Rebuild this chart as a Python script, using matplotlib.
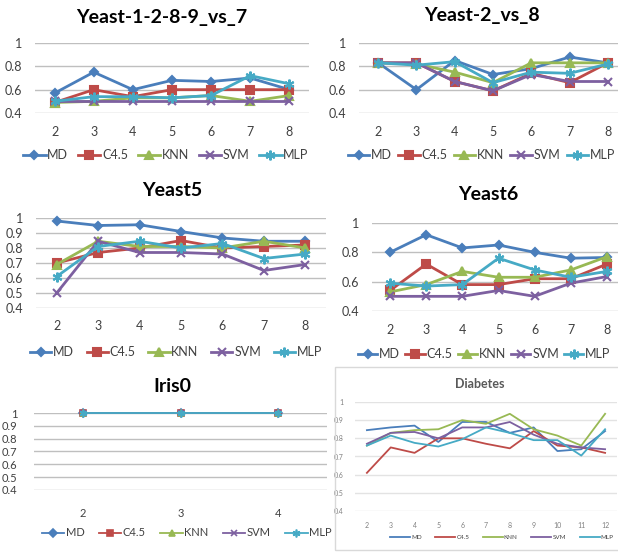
import matplotlib
matplotlib.use("Agg")
import matplotlib.pyplot as plt
from matplotlib.patches import Rectangle

plt.rcParams['font.family'] = ['Lato', 'DejaVu Sans']

W, H = 618, 552

methods = ["MD", "C4.5", "KNN", "SVM", "MLP"]

# Yeast-1-2-8-9_vs_7
y1289_x = [2, 3, 4, 5, 6, 7, 8]
y1289 = {
    "MD":   [0.57, 0.75, 0.60, 0.68, 0.67, 0.70, 0.60],
    "C4.5": [0.49, 0.60, 0.54, 0.60, 0.60, 0.60, 0.60],
    "KNN":  [0.49, 0.50, 0.53, 0.53, 0.55, 0.50, 0.55],
    "SVM":  [0.50, 0.50, 0.50, 0.50, 0.50, 0.50, 0.50],
    "MLP":  [0.50, 0.54, 0.54, 0.53, 0.55, 0.72, 0.65],
}

# Yeast-2_vs_8
y28_x = [2, 3, 4, 5, 6, 7, 8]
y28 = {
    "MD":   [0.83, 0.60, 0.85, 0.73, 0.78, 0.88, 0.83],
    "C4.5": [0.83, 0.83, 0.67, 0.59, 0.74, 0.66, 0.83],
    "KNN":  [0.83, 0.82, 0.75, 0.66, 0.83, 0.83, 0.83],
    "SVM":  [0.83, 0.83, 0.67, 0.59, 0.73, 0.67, 0.67],
    "MLP":  [0.83, 0.81, 0.84, 0.66, 0.75, 0.74, 0.82],
}

# Yeast5
y5_x = [2, 3, 4, 5, 6, 7, 8]
y5 = {
    "MD":   [0.98, 0.95, 0.955, 0.91, 0.867, 0.845, 0.845],
    "C4.5": [0.70, 0.77, 0.80, 0.85, 0.80, 0.81, 0.82],
    "KNN":  [0.69, 0.845, 0.81, 0.81, 0.80, 0.845, 0.80],
    "SVM":  [0.50, 0.845, 0.77, 0.77, 0.76, 0.65, 0.69],
    "MLP":  [0.61, 0.81, 0.845, 0.80, 0.83, 0.73, 0.76],
}

# Yeast6
y6_x = [2, 3, 4, 5, 6, 7, 8]
y6 = {
    "MD":   [0.80, 0.92, 0.83, 0.85, 0.80, 0.76, 0.765],
    "C4.5": [0.54, 0.72, 0.58, 0.58, 0.62, 0.62, 0.72],
    "KNN":  [0.53, 0.58, 0.67, 0.63, 0.63, 0.68, 0.77],
    "SVM":  [0.50, 0.50, 0.50, 0.54, 0.50, 0.59, 0.635],
    "MLP":  [0.59, 0.57, 0.58, 0.76, 0.68, 0.63, 0.67],
}

# Iris0
iris_x = [2, 3, 4]
iris = {
    "MD":   [1.0, 1.0, 1.0],
    "C4.5": [1.0, 1.0, 1.0],
    "KNN":  [1.0, 1.0, 1.0],
    "SVM":  [1.0, 1.0, 1.0],
    "MLP":  [1.0, 1.0, 1.0],
}

# Diabetes
diab_x = [2, 3, 4, 5, 6, 7, 8, 9, 10, 11, 12]
diab = {
    "MD":   [0.845, 0.86, 0.87, 0.78, 0.89, 0.89, 0.83, 0.86, 0.73, 0.74, 0.84],
    "C4.5": [0.61, 0.75, 0.72, 0.80, 0.80, 0.77, 0.745, 0.84, 0.76, 0.75, 0.72],
    "KNN":  [0.76, 0.83, 0.845, 0.85, 0.90, 0.88, 0.935, 0.85, 0.815, 0.76, 0.935],
    "SVM":  [0.77, 0.83, 0.835, 0.80, 0.86, 0.86, 0.89, 0.82, 0.77, 0.75, 0.74],
    "MLP":  [0.76, 0.815, 0.775, 0.755, 0.795, 0.86, 0.83, 0.79, 0.79, 0.705, 0.85],
}

colors = {"MD": "#4A7EBB", "C4.5": "#BE4B48", "KNN": "#98B954",
          "SVM": "#7D60A0", "MLP": "#46AAC5"}
markers = {"MD": "D", "C4.5": "s", "KNN": "^", "SVM": "x", "MLP": (6, 2, 0)}
msizes = {"MD": 4.5, "C4.5": 6, "KNN": 6, "SVM": 6, "MLP": 7}

fig = plt.figure(figsize=(W / 100, H / 100), dpi=100)
fig.patch.set_facecolor("white")


def add_panel(x0, x1, ytop, ybot):
    return fig.add_axes([x0 / W, 1 - ybot / H, (x1 - x0) / W, (ybot - ytop) / H])


def style_axes(ax, xs, yticks, ylabels, fs, grid_col="#BFBFBF", tcol="#404040"):
    ax.set_xlim(xs[0] - 0.5, xs[-1] + 0.5)
    ax.set_ylim(0.4, 1.0)
    ax.set_xticks(xs)
    ax.set_xticklabels([str(v) for v in xs])
    ax.set_yticks(yticks)
    ax.set_yticklabels(ylabels)
    for s in ax.spines.values():
        s.set_visible(False)
    ax.tick_params(length=0, labelsize=fs, colors=tcol, pad=9)
    ax.grid(axis="y", color=grid_col, lw=1)
    ax.set_axisbelow(True)
    ax.patch.set_alpha(0)


def draw_panel(ax, xs, data, lw=2, mscale=1.0, use_markers=True):
    for m in methods:
        if use_markers:
            ax.plot(xs, data[m], color=colors[m], lw=lw, marker=markers[m],
                    ms=msizes[m] * mscale, mew=1.5 * mscale, label=m, clip_on=False)
        else:
            ax.plot(xs, data[m], color=colors[m], lw=lw, label=m, clip_on=False)


def add_legend(ax, x0, cy, fs, hl=1.8, cs=0.75):
    h, l = ax.get_legend_handles_labels()
    fig.legend(h, l, loc="center left", bbox_to_anchor=(x0 / W, 1 - cy / H), ncol=5,
               frameon=False, fontsize=fs, handlelength=hl, handletextpad=0.15,
               columnspacing=cs, numpoints=1, labelcolor="#404040",
               borderpad=0, borderaxespad=0)


ticks02 = [0.4, 0.6, 0.8, 1.0]
labs02 = ["0.4", "0.6", "0.8", "1"]
ticks01 = [0.4, 0.5, 0.6, 0.7, 0.8, 0.9, 1.0]
labs01 = ["0.4", "0.5", "0.6", "0.7", "0.8", "0.9", "1"]

# top left
ax1 = add_panel(35, 309, 43, 113)
style_axes(ax1, y1289_x, ticks02, labs02, 9)
draw_panel(ax1, y1289_x, y1289)
add_legend(ax1, 23, 155, 9)

# top right
ax2 = add_panel(359, 627, 43, 113)
style_axes(ax2, y28_x, ticks02, labs02, 9)
draw_panel(ax2, y28_x, y28)
add_legend(ax2, 348, 155, 9, hl=1.7, cs=0.5)

# middle left
ax3 = add_panel(36, 326, 218, 308)
style_axes(ax3, y5_x, ticks01, labs01, 9)
draw_panel(ax3, y5_x, y5)
add_legend(ax3, 30, 352, 9, hl=1.7, cs=1.0)

# middle right
ax4 = add_panel(372, 625, 223, 311)
style_axes(ax4, y6_x, ticks02, labs02, 9)
draw_panel(ax4, y6_x, y6)
add_legend(ax4, 358, 354, 9, hl=1.55, cs=0.4)

# bottom left
ax5 = add_panel(34, 327, 413, 490)
style_axes(ax5, iris_x, ticks01, labs01, 8)
ax5.tick_params(axis="y", pad=12)
ax5.tick_params(axis="x", pad=13)
draw_panel(ax5, iris_x, iris, lw=1.3, mscale=0.8)
add_legend(ax5, 42, 533, 8, hl=2.0, cs=1.3)

# bottom right: Diabetes (separate framed chart)
fig.patches.append(Rectangle((335 / W, 1 - 550 / H), 290 / W, 183 / H,
                             transform=fig.transFigure, fill=False,
                             ec="#D9D9D9", lw=1))
ax6 = add_panel(355, 617, 402, 511)
style_axes(ax6, diab_x, ticks01, labs01, 5, grid_col="#E3E3E3", tcol="#808080")
ax6.tick_params(pad=8)
draw_panel(ax6, diab_x, diab, lw=1.3, use_markers=False)
add_legend(ax6, 390, 537, 4.5, hl=3.2, cs=2.2)

title_style = dict(ha="center", va="center", fontweight="bold", color="#000000")
titles = [
    (162, 17, "Yeast-1-2-8-9_vs_7", 14),
    (482, 15, "Yeast-2_vs_8", 14),
    (172, 190, "Yeast5", 14),
    (488, 195, "Yeast6", 14),
    (172, 387, "Iris0", 14),
]
for x, y, t, s in titles:
    fig.text(x / W, 1 - y / H, t, fontsize=s, **title_style)
fig.text(480 / W, 1 - 384 / H, "Diabetes", fontsize=9, ha="center", va="center",
         fontweight="bold", color="#595959")

fig.savefig("out.png", dpi=100, facecolor="white")
